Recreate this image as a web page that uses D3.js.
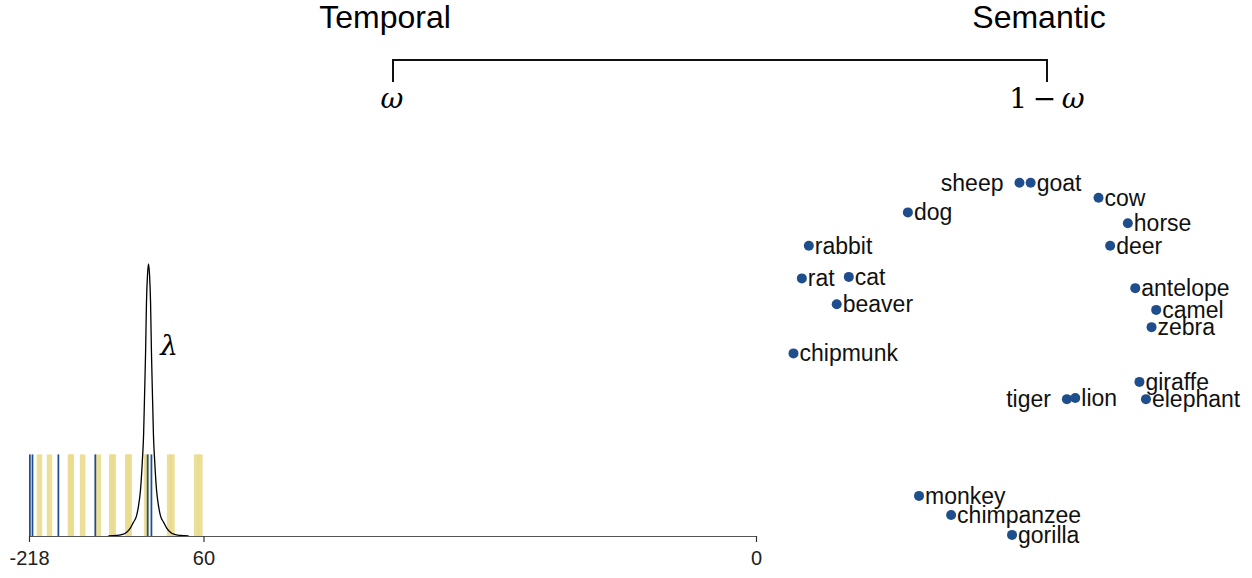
<!DOCTYPE html>
<html>
<head>
<meta charset="utf-8">
<script src="https://cdn.jsdelivr.net/npm/d3@7"></script>
<style>
  body { margin: 0; background: #fff; }
</style>
</head>
<body>
<svg id="chart" width="1252" height="578"></svg>
<script>
// timeline data (time units along the list, 0 = first item)
let yellowTimes = [2.65, 6.1, 13.3, 13.6, 17.5, 22.9, 27.5, 28.0, 33.0, 33.5, 39.5, 47.4, 48.2, 56.7, 57.8];
let blueTimes = [0.0, 0.9, 9.8, 22.5, 40.5, 41.8];
let barHeight = 0.3;

// lambda kernel: offset from centre, relative height
let kernelCenter = 41.1;
let kernelOffsets = [0, 0.35, 0.7, 1.0, 1.4, 1.7, 2.1, 2.75, 3.45, 4.1, 5.2, 6.2, 7.6, 8.9, 11, 13.8];
let kernelHeights = [1.0, 0.96, 0.86, 0.68, 0.5, 0.37, 0.28, 0.17, 0.11, 0.075, 0.05, 0.03, 0.013, 0.006, 0.002, 0];

// axis ticks
let tickValues = [0, 60, 250];
let tickLabels = ["-218", "60", "0"];

// semantic space
let animals = ["sheep", "goat", "dog", "cow", "horse", "rabbit", "deer", "rat", "cat", "beaver",
  "antelope", "camel", "zebra", "chipmunk", "giraffe", "elephant", "tiger", "lion",
  "monkey", "chimpanzee", "gorilla"];
let semX = [51.5, 53.9, 27.5, 68.5, 74.8, 6.2, 71.0, 4.7, 14.8, 12.2,
  76.4, 80.9, 79.9, 2.9, 77.3, 78.7, 61.7, 63.5,
  29.9, 36.8, 49.9];
let semY = [96.6, 96.6, 88.7, 92.6, 85.8, 79.8, 79.8, 71.1, 71.5, 64.2,
  68.5, 62.7, 58.1, 51.1, 43.5, 38.9, 38.9, 39.2,
  13.1, 8.0, 2.7];
let leftLabels = ["sheep", "tiger"];

let yellow = "#eadb8e";
let blue = "#1f4e8c";
let sans = "Liberation Sans, Arial, sans-serif";
let serif = "DejaVu Serif, Liberation Serif, serif";

let svg = d3.select("#chart");

//////////////////////////
// header: bracket
//////////////////////////
let header = svg.append("g");
header.append("text").attr("x", 385).attr("y", 28).attr("text-anchor", "middle")
  .attr("font-family", sans).attr("font-size", 32).text("Temporal");
header.append("text").attr("x", 1039).attr("y", 28).attr("text-anchor", "middle")
  .attr("font-family", sans).attr("font-size", 32).text("Semantic");
header.append("path")
  .attr("d", "M393,82V60H1047V82")
  .attr("fill", "none").attr("stroke", "#111").attr("stroke-width", 2);
header.append("text").attr("x", 392).attr("y", 108).attr("text-anchor", "middle")
  .attr("font-family", serif).attr("font-style", "italic")
  .attr("font-size", 28).text("ω");
header.append("text").attr("x", 1047).attr("y", 108).attr("text-anchor", "middle")
  .attr("font-family", serif)
  .attr("font-size", 28).html('1\u2009−\u2009<tspan font-style="italic">ω</tspan>');

//////////////////////////
// temporal panel
//////////////////////////
let xScale = d3.scaleLinear().domain([0, 250]).range([29, 756]);
let yScale = d3.scaleLinear().domain([0, 1]).range([536, 264]);
let yellowW = 1.9, blueW = 0.6;

let tl = svg.append("g");
tl.selectAll(".ybar").data(yellowTimes).enter().append("rect")
  .attr("x", d => xScale(d))
  .attr("y", yScale(barHeight))
  .attr("width", xScale(yellowW) - xScale(0))
  .attr("height", yScale(0) - yScale(barHeight))
  .attr("fill", yellow).attr("opacity", 0.9);

tl.selectAll(".bbar").data(blueTimes).enter().append("rect")
  .attr("x", d => xScale(d))
  .attr("y", yScale(barHeight))
  .attr("width", xScale(blueW) - xScale(0))
  .attr("height", yScale(0) - yScale(barHeight))
  .attr("fill", blue);

// kernel: mirror offsets to both sides
let kernel = [];
for (let i = kernelOffsets.length - 1; i > 0; i--) kernel.push([kernelCenter - kernelOffsets[i], kernelHeights[i]]);
for (let i = 0; i < kernelOffsets.length; i++) kernel.push([kernelCenter + kernelOffsets[i], kernelHeights[i]]);

tl.append("path")
  .datum(kernel)
  .attr("d", d3.line().x(d => xScale(d[0])).y(d => yScale(d[1])).curve(d3.curveMonotoneX))
  .attr("fill", "none").attr("stroke", "#000").attr("stroke-width", 1.3);

tl.append("text").attr("x", 169).attr("y", 355).attr("text-anchor", "middle")
  .attr("font-family", serif).attr("font-style", "italic")
  .attr("font-size", 28).text("λ");

let axis = tl.append("g")
  .attr("transform", `translate(0,${yScale(0)})`)
  .call(d3.axisBottom(xScale).tickValues(tickValues)
    .tickFormat((d, i) => tickLabels[i]).tickSize(6).tickSizeOuter(0));
axis.select(".domain").attr("stroke", "#555").attr("stroke-width", 1.2);
axis.selectAll(".tick line").attr("stroke", "#333").attr("stroke-width", 1.2);
axis.selectAll(".tick text").attr("font-size", 20).attr("fill", "#222")
  .attr("font-family", sans).attr("y", 10).attr("dy", "0.95em");

//////////////////////////
// semantic panel
//////////////////////////
let sx = d3.scaleLinear().domain([0, 100]).range([780, 1245]);
let sy = d3.scaleLinear().domain([0, 100]).range([545, 170]);

let pts = svg.append("g").selectAll("g").data(animals).enter().append("g")
  .attr("transform", (d, i) => `translate(${sx(semX[i])},${sy(semY[i])})`);
pts.append("circle").attr("r", 5).attr("fill", blue);
pts.append("text")
  .attr("x", d => leftLabels.includes(d) ? -16 : 6)
  .attr("y", 0)
  .attr("dy", "0.35em")
  .attr("text-anchor", d => leftLabels.includes(d) ? "end" : "start")
  .attr("font-family", sans).attr("font-size", 23).attr("fill", "#111")
  .text(d => d);
</script>
</body>
</html>
